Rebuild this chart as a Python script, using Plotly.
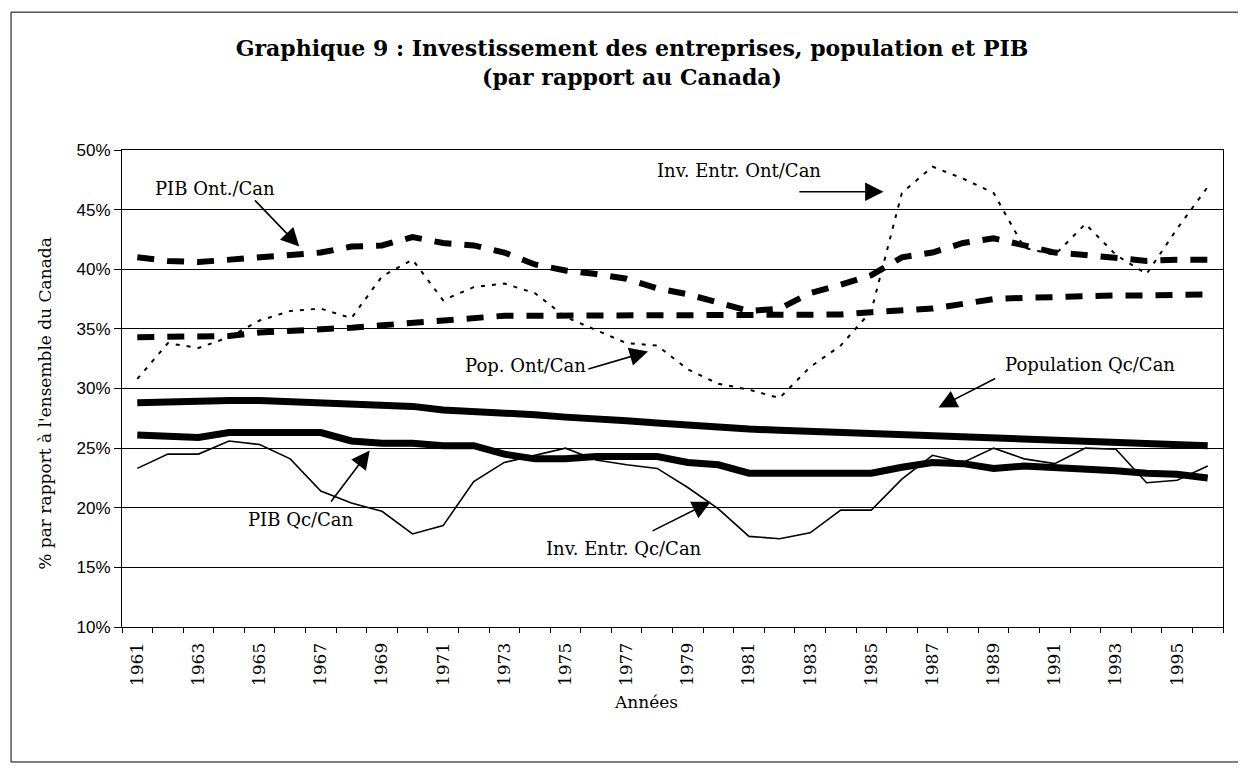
import plotly.graph_objects as go

years = list(range(1961, 1997))

pib_ont = [41.0, 40.7, 40.6, 40.8, 40.9, 41.1, 41.4, 41.9, 42.0, 42.7, 42.2, 42.0,
           41.4, 40.4, 39.9, 39.6, 39.2, 38.4, 37.9, 37.2, 36.5, 36.7, 38.0, 38.7,
           39.5, 41.0, 41.4, 42.2, 42.6, 42.0, 41.4, 41.2, 40.9, 40.7, 40.8, 40.8]
pop_ont = [34.3, 34.3, 34.3, 34.4, 34.7, 34.8, 35.0, 35.1, 35.3, 35.5, 35.8, 36.0,
           36.1, 36.1, 36.1, 36.1, 36.1, 36.1, 36.1, 36.1, 36.1, 36.1, 36.1, 36.2,
           36.4, 36.5, 36.7, 37.1, 37.5, 37.6, 37.7, 37.8, 37.8, 37.8, 37.9, 37.9]
inv_ont = [30.8, 33.8, 33.4, 34.3, 35.7, 36.5, 36.7, 35.9, 39.4, 40.8, 37.4, 38.5,
           38.8, 38.0, 36.0, 34.9, 33.8, 33.6, 31.6, 30.4, 29.9, 29.2, 31.8, 33.6,
           36.5, 46.4, 48.6, 47.6, 46.4, 41.8, 41.2, 43.8, 41.2, 39.6, 43.4, 46.9]
pop_qc = [28.8, 28.9, 29.0, 29.0, 29.0, 28.9, 28.9, 28.8, 28.7, 28.5, 28.2, 28.1,
          27.9, 27.8, 27.6, 27.5, 27.3, 27.1, 26.9, 26.8, 26.6, 26.5, 26.4, 26.3,
          26.2, 26.1, 26.0, 25.9, 25.8, 25.7, 25.6, 25.5, 25.5, 25.4, 25.3, 25.2]
pib_qc = [26.1, 26.0, 25.9, 26.3, 26.3, 26.2, 26.3, 25.6, 25.4, 25.4, 25.2, 25.2,
          24.5, 24.1, 24.1, 24.3, 24.3, 24.3, 23.8, 23.6, 22.9, 22.9, 22.9, 22.9,
          22.9, 23.4, 23.8, 23.7, 23.3, 23.5, 23.4, 23.3, 23.1, 22.9, 22.8, 22.5]
inv_qc = [23.3, 24.5, 24.5, 25.6, 25.3, 24.1, 21.4, 20.4, 19.7, 17.8, 18.5, 22.2,
          23.8, 24.4, 25.0, 24.0, 23.6, 23.3, 21.7, 19.9, 17.6, 17.4, 17.9, 19.8,
          19.8, 22.4, 24.4, 23.8, 25.0, 24.1, 23.7, 25.0, 24.9, 22.1, 22.3, 23.5]

tick_years = list(range(1961, 1996, 2))
y_ticks = [10, 15, 20, 25, 30, 35, 40, 45, 50]
y_ticktext = ["10%", "15%", "20%", "25%", "30%", "35%", "40%", "45%", "50%"]

# label text, label position (year, %), arrow tail (year, %), arrow tip (year, %)
labels = [
    ("PIB Ont./Can", 1963.55, 46.8, 1964.8, 45.9, 1966.3, 41.9),
    ("Inv. Entr. Ont/Can", 1980.67, 48.3, 1982.6, 46.5, 1985.4, 46.5),
    ("Pop. Ont/Can", 1973.7, 31.9, 1975.7, 31.6, 1977.7, 33.1),
    ("Population Qc/Can", 1992.15, 32.0, 1989.1, 30.9, 1987.2, 28.4),
    ("PIB Qc/Can", 1966.35, 19.0, 1967.3, 20.4, 1968.6, 24.8),
    ("Inv. Entr. Qc/Can", 1976.9, 16.6, 1977.8, 18.0, 1979.75, 20.5),
]

serif = "DejaVu Serif"
fig = go.Figure()

series = [
    ("PIB Ont./Can", pib_ont, dict(color="black", width=6, dash="17px,13px")),
    ("Pop. Ont/Can", pop_ont, dict(color="black", width=6, dash="17px,13px")),
    ("Inv. Entr. Ont/Can", inv_ont, dict(color="black", width=2, dash="4px,7px")),
    ("Population Qc/Can", pop_qc, dict(color="black", width=7)),
    ("PIB Qc/Can", pib_qc, dict(color="black", width=7)),
    ("Inv. Entr. Qc/Can", inv_qc, dict(color="black", width=1.6)),
]
for name, vals, line in series:
    fig.add_trace(go.Scatter(x=years, y=vals, mode="lines", name=name, line=line,
                             showlegend=False))

annotations = []
for text, tx, ty, ax, ay, hx, hy in labels:
    annotations.append(dict(x=tx, y=ty, xref="x", yref="y", text=text, showarrow=False,
                            xanchor="center", yanchor="middle",
                            font=dict(family=serif, size=18, color="black")))
    annotations.append(dict(x=hx, y=hy, xref="x", yref="y", ax=ax, ay=ay,
                            axref="x", ayref="y", text="", showarrow=True,
                            arrowhead=2, arrowsize=2.3, arrowwidth=1.6,
                            arrowcolor="black"))

annotations.append(dict(x=-0.07, y=0.47, xref="paper", yref="paper",
                        xanchor="center", yanchor="middle",
                        text="% par rapport à l'ensemble du Canada", textangle=-90,
                        showarrow=False, font=dict(family=serif, size=17, color="black")))
annotations.append(dict(x=0.476, y=-0.157, xref="paper", yref="paper", text="Années",
                        xanchor="center", yanchor="middle",
                        showarrow=False, font=dict(family=serif, size=17, color="black")))

fig.update_layout(
    width=1246, height=769,
    margin=dict(l=114, r=31, t=142, b=150),
    paper_bgcolor="white", plot_bgcolor="white",
    title=dict(text="<b>Graphique 9 : Investissement des entreprises, population et PIB</b><br>"
                    "<b>(par rapport au Canada)</b>",
               x=0.5008, xanchor="center", y=0.9376, yanchor="middle",
               font=dict(family=serif, size=22, color="black")),
    annotations=annotations,
    shapes=[dict(type="rect", xref="paper", yref="paper", x0=-0.1008, x1=1.019,
                 y0=-0.283, y1=1.289, line=dict(color="black", width=1))],
)
fig.update_xaxes(range=[1960.5, 1996.5], tickvals=tick_years,
                 ticktext=[str(y) for y in tick_years], tickangle=-90,
                 ticks="", showgrid=False, zeroline=False,
                 showline=True, linecolor="black", linewidth=1, mirror=True,
                 ticklabelstandoff=8,
                 tickfont=dict(family=serif, size=17, color="black"),
                 minor=dict(tick0=1960.5, dtick=1, ticks="outside", ticklen=5,
                            tickcolor="black", showgrid=False))
fig.update_yaxes(range=[10, 50], tickvals=y_ticks, ticktext=y_ticktext,
                 ticks="outside", ticklen=7, tickcolor="black",
                 showgrid=True, gridcolor="black", gridwidth=1, zeroline=False,
                 showline=True, linecolor="black", linewidth=1, mirror=True,
                 tickfont=dict(family="Liberation Sans", size=17, color="black"))

fig.write_html("out.html")
